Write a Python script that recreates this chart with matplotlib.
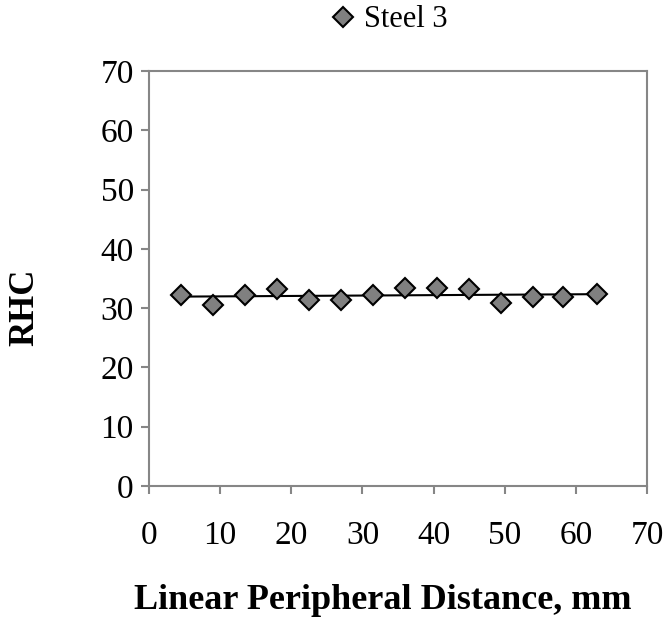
import numpy as np
from matplotlib import pyplot as plt

plt.rcParams['font.family'] = ['Liberation Serif', 'DejaVu Serif']

# Steel 3 hardness readings along the periphery
distance = [4.5, 9.0, 13.5, 18.0, 22.5, 27.0, 31.5, 36.0, 40.5, 45.0, 49.5, 54.0, 58.2, 63.0]
rhc = [32.2, 30.5, 32.2, 33.2, 31.4, 31.4, 32.2, 33.4, 33.4, 33.2, 30.9, 31.9, 31.8, 32.4]
ticks = [0, 10, 20, 30, 40, 50, 60, 70]

fig = plt.figure(figsize=(6.68, 6.24), dpi=100)
ax = fig.add_axes([0.2231, 0.2212, 0.7455, 0.665])

ax.plot(distance, rhc, linestyle='none', marker='D', markersize=10.5,
        markerfacecolor='#808080', markeredgecolor='black', markeredgewidth=1.5,
        label='Steel 3', zorder=3)

# linear trend line
k, b = np.polyfit(distance, rhc, 1)
xs = np.array([min(distance), max(distance)])
ax.plot(xs, k * xs + b, color='black', linewidth=1.5, zorder=2)

ax.set_xlim(0, 70)
ax.set_ylim(0, 70)
ax.set_xticks(ticks)
ax.set_yticks(ticks)
ax.tick_params(axis='both', direction='out', length=6, width=1.5,
               color='#868686', labelsize=24, pad=5)
ax.tick_params(axis='x', pad=19)
for s in ax.spines.values():
    s.set_color('#868686')
    s.set_linewidth(1.5)

ax.set_xlabel('Linear Peripheral Distance, mm', fontsize=26, fontweight='bold')
ax.set_ylabel('RHC', fontsize=25, fontweight='bold')
ax.xaxis.set_label_coords(0.469, -0.275)
ax.yaxis.set_label_coords(-0.249, 0.431)
ax.xaxis.label.set_va('center')
ax.yaxis.label.set_va('center')

ax.legend(loc='center', bbox_to_anchor=(0.485, 1.123), frameon=False,
          fontsize=22, handlelength=0.6, handletextpad=0.4, borderaxespad=0,
          borderpad=0)

fig.savefig('out.png', dpi=100)
